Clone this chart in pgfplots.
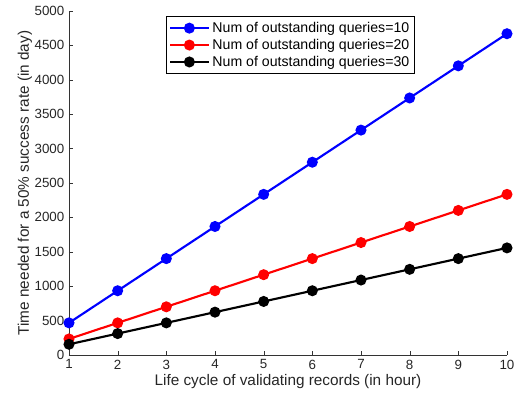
\documentclass[border=0pt]{standalone}
\usepackage{pgfplots}
\pgfplotsset{compat=1.18}
\usepackage{fontspec}
\setmainfont{Liberation Sans}
\begin{document}
\begin{tikzpicture}
\useasboundingbox (-51.75pt,-42.75pt) rectangle (337.5pt,266.25pt);
\begin{axis}[
  scale only axis,
  width=328.5pt, height=258pt,
  xmin=1, xmax=10, ymin=0, ymax=5000,
  axis x line*=bottom, axis y line*=left,
  axis line style={-, black!80},
  tick align=inside,
  tick style={black!80},
  major tick length=3pt,
  xtick={1,...,10},
  ytick={0,500,...,5000},
  scaled y ticks=false,
  /pgf/number format/assume math mode=true,
  /pgf/number format/set thousands separator={},
  tick label style={font=\fontsize{10}{12}\selectfont, text=black!85},
  label style={font=\fontsize{11.5}{13}\selectfont, text=black!85},
  xlabel={Life cycle of validating records (in hour)},
  ylabel={Time needed for a 50\% success rate (in day)},
  xlabel style={yshift=3pt},
  ylabel style={yshift=-5pt},
  legend style={at={(0.221,0.985)}, anchor=north west, draw=black, line width=0.8pt,
    font=\fontsize{10.6}{12.5}\selectfont, inner sep=2pt, row sep=-0.5pt,
    cells={anchor=west}},
  legend cell align=left,
  legend image code/.code={
    \draw[#1] (0pt,0pt) -- (29pt,0pt);
    \draw[#1, only marks] plot coordinates {(14.5pt,0pt)};
  },
  every axis plot/.append style={line width=1.6pt, mark=*, mark size=3.3pt},
]
\addplot[blue, mark options={fill=blue}] coordinates {
(1,467)(2,934)(3,1401)(4,1868)(5,2335)(6,2802)(7,3269)(8,3736)(9,4203)(10,4670)};
\addlegendentry{Num of outstanding queries=10}
\addplot[red, mark options={fill=red}] coordinates {
(1,233.5)(2,467)(3,700.5)(4,934)(5,1167.5)(6,1401)(7,1634.5)(8,1868)(9,2101.5)(10,2335)};
\addlegendentry{Num of outstanding queries=20}
\addplot[black, mark options={fill=black}] coordinates {
(1,155.7)(2,311.3)(3,467)(4,622.7)(5,778.3)(6,934)(7,1089.7)(8,1245.3)(9,1401)(10,1556.7)};
\addlegendentry{Num of outstanding queries=30}
\end{axis}
\end{tikzpicture}
\end{document}
